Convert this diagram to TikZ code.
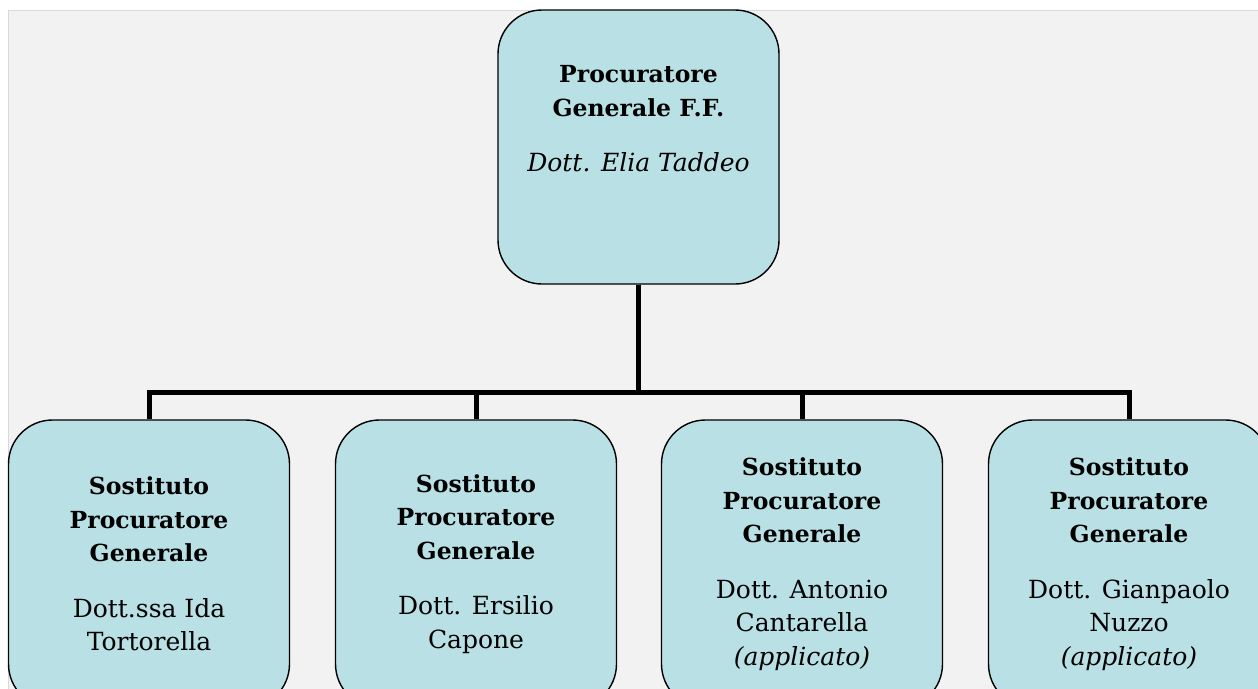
\documentclass[tikz,border=0pt]{standalone}
\usepackage{fontspec}
\setmainfont{DejaVu Serif}
\usepackage{tikz}
\usetikzlibrary{positioning}

\definecolor{boxfill}{RGB}{185,224,228}
\definecolor{pagegray}{RGB}{242,242,242}
\definecolor{pageedge}{RGB}{217,217,217}

\newcommand{\rank}[1]{{\fontsize{23.5}{33.5}\selectfont\bfseries #1}}
\newcommand{\who}[1]{{\fontsize{25}{33.5}\selectfont #1}}

\begin{document}
\begin{tikzpicture}[
  x=1pt, y=-1pt,
  every node/.style={align=center, font=\fontsize{24}{33.5}\selectfont},
  office/.style={rectangle, rounded corners=44pt, draw=black, line width=1.4pt, fill=boxfill, minimum width=281pt, inner sep=0pt},
  head/.style={office, minimum height=274pt, text depth=57pt},
  deputy/.style={office, minimum height=288pt},
  link/.style={line width=5pt, draw=black}
]

% --- PAGE ---
\useasboundingbox (0,0) rectangle (1258,688);
\clip (0,0) rectangle (1258,688);
\draw[fill=pagegray, draw=pageedge, line width=1pt] (8,10) rectangle (1270,700);

% --- HEAD OFFICE ---
\node[head] (pg) at (638.5,147) {\rank{Procuratore}\\\rank{Generale F.F.}\\[22pt]\who{\itshape Dott. Elia Taddeo}};

% --- DEPUTIES ---
\node[deputy] (spg1) at (149,564) {\rank{Sostituto}\\\rank{Procuratore}\\\rank{Generale}\\[22pt]\who{Dott.ssa Ida}\\\who{Tortorella}};
\node[deputy] (spg2) at (476,564) {\rank{Sostituto}\\\rank{Procuratore}\\\rank{Generale}\\[22pt]\who{Dott. Ersilio}\\\who{Capone}};
\node[deputy] (spg3) at (802,564) {\rank{Sostituto}\\\rank{Procuratore}\\\rank{Generale}\\[22pt]\who{Dott. Antonio}\\\who{Cantarella}\\\who{\itshape(applicato)}};
\node[deputy] (spg4) at (1129,564) {\rank{Sostituto}\\\rank{Procuratore}\\\rank{Generale}\\[22pt]\who{Dott. Gianpaolo}\\\who{Nuzzo}\\\who{\itshape(applicato)}};

% --- TREE ---
\foreach \d in {spg1,spg2,spg3,spg4}
  \draw[link] (pg.south) -- ++(0,108) -| (\d.north);

\end{tikzpicture}
\end{document}
